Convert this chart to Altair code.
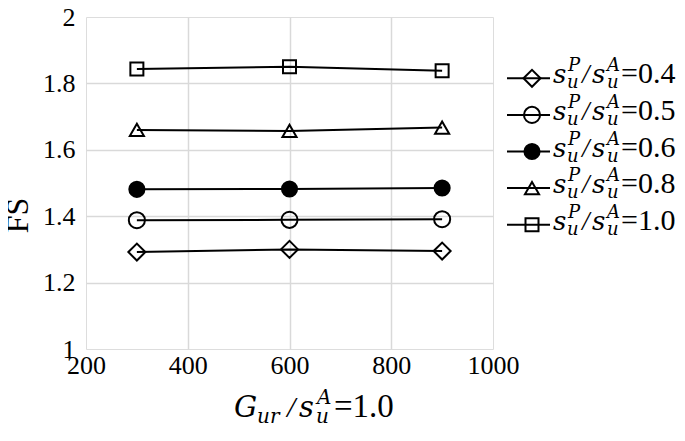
import altair as alt
import pandas as pd

# ---- data ----
g_vals = [300, 600, 900]
series = ["0.4", "0.5", "0.6", "0.8", "1.0"]
fs_04 = [1.292, 1.300, 1.295]
fs_05 = [1.388, 1.389, 1.391]
fs_06 = [1.481, 1.482, 1.485]
fs_08 = [1.660, 1.657, 1.667]
fs_10 = [1.843, 1.850, 1.838]
x_ticks = [200, 400, 600, 800, 1000]
y_ticks = [1.0, 1.2, 1.4, 1.6, 1.8, 2.0]

shapes = ["diamond", "circle", "circle", "triangle-up", "square"]
fills = ["transparent", "transparent", "black", "transparent", "transparent"]
sizes = [289, 169, 225, 256, 225]

rows = []
for s, vals in zip(series, [fs_04, fs_05, fs_06, fs_08, fs_10]):
    for g, v in zip(g_vals, vals):
        rows.append({"g": g, "fs": v, "series": s})
df = pd.DataFrame(rows)
leg = pd.DataFrame({"series": series, "label": ["=" + s for s in series]})
one = pd.DataFrame({"k": [0]})

SERIF = "Liberation Serif"
MATH = "DejaVu Serif"

shape_enc = alt.Shape("series:N", scale=alt.Scale(domain=series, range=shapes), legend=None)
fill_enc = alt.Fill("series:N", scale=alt.Scale(domain=series, range=fills), legend=None)
size_enc = alt.Size("series:N", scale=alt.Scale(domain=series, range=sizes), legend=None)

grid_x = {"condition": {"test": "datum.value <= 200 || datum.value >= 1000", "value": 0}, "value": 1}
grid_y = {"condition": {"test": "datum.value <= 1 || datum.value >= 2", "value": 0}, "value": 1}

xenc = alt.X("g:Q", scale=alt.Scale(domain=[200, 1000], nice=False),
             axis=alt.Axis(values=x_ticks, format="d", title=None, grid=True, ticks=False,
                           tickSize=0, domain=False, labelFont=SERIF, labelFontSize=26,
                           labelColor="black", labelPadding=3, gridColor="#d9d9d9",
                           gridWidth=1.5, gridOpacity=grid_x, labelFlush=False))
yenc = alt.Y("fs:Q", scale=alt.Scale(domain=[1, 2], nice=False, zero=False),
             axis=alt.Axis(values=y_ticks, format=".1~f", title="FS", grid=True, ticks=False,
                           tickSize=0, domain=False, labelFont=SERIF, labelFontSize=26,
                           labelColor="black", labelPadding=11, gridColor="#d9d9d9",
                           gridWidth=1.5, gridOpacity=grid_y, titleFont=SERIF,
                           titleFontSize=32, titleFontWeight="normal", titleColor="black",
                           titleX=-69, titleY=198, titleAlign="center",
                           titleBaseline="middle", labelFlush=False))

base = alt.Chart(df)
lines = base.mark_line(color="black", strokeWidth=2).encode(x=xenc, y=yenc, detail="series:N")
points = base.mark_point(filled=True, stroke="black", strokeWidth=2, opacity=1).encode(
    x=xenc, y=yenc, shape=shape_enc, fill=fill_enc, size=size_enc)
main = alt.layer(lines, points)

# ---- legend (drawn as marks to the right of the plot) ----
ly = alt.Y("series:N", scale=alt.Scale(domain=series, range=[43, 226], padding=0), axis=None)
lbase = alt.Chart(leg)
l_rule = lbase.mark_rule(color="black", strokeWidth=2).encode(
    x=alt.value(421), x2=alt.value(464), y=ly)
l_pts = lbase.mark_point(filled=True, stroke="black", strokeWidth=2, opacity=1).encode(
    x=alt.value(446), y=ly, shape=shape_enc, fill=fill_enc, size=size_enc)


def piece(txt, px, dy, size, font=MATH, style="italic"):
    return lbase.mark_text(text=txt, align="left", baseline="alphabetic", font=font,
                           fontSize=size, fontStyle=style, dy=dy, color="black").encode(
        x=alt.value(px), y=ly)


l_txt = [
    piece("s", 467, 5, 26),
    piece("P", 482, -7, 18),
    piece("u", 481, 10, 18),
    piece("/", 496, 5, 27, font=SERIF),
    piece("s", 506, 5, 26),
    piece("A", 521, -7, 18),
    piece("u", 521, 10, 18),
    lbase.mark_text(align="left", baseline="alphabetic", font=SERIF, fontSize=30,
                    dy=5, color="black").encode(x=alt.value(535), y=ly, text="label:N"),
]
legend = alt.layer(l_rule, l_pts, *l_txt)

# ---- x-axis title with sub/superscripts ----
tbase = alt.Chart(one)


def tpiece(txt, px, py, size, font=MATH, style="italic"):
    return tbase.mark_text(text=txt, align="left", baseline="alphabetic", font=font,
                           fontSize=size, fontStyle=style, color="black").encode(
        x=alt.value(px), y=alt.value(py))


xtitle = alt.layer(
    tpiece("G", 148, 400, 29),
    tpiece("ur", 171, 406, 20),
    tpiece("/", 201, 400, 30, font=SERIF),
    tpiece("s", 213, 400, 29),
    tpiece("A", 231, 387, 20),
    tpiece("u", 230, 406, 20),
    tpiece("=1.0", 248, 400, 33, font=SERIF, style="normal"),
)

chart = alt.layer(main, legend, xtitle).resolve_scale(y="independent").properties(
    width=407, height=332,
    autosize=alt.AutoSizeParams(type="none"),
    padding={"left": 78, "top": 9, "right": 184, "bottom": 84},
).configure_view(stroke="black", strokeWidth=2).configure(background="white")

chart.save("out.html", embed_options={"renderer": "svg", "actions": False})
